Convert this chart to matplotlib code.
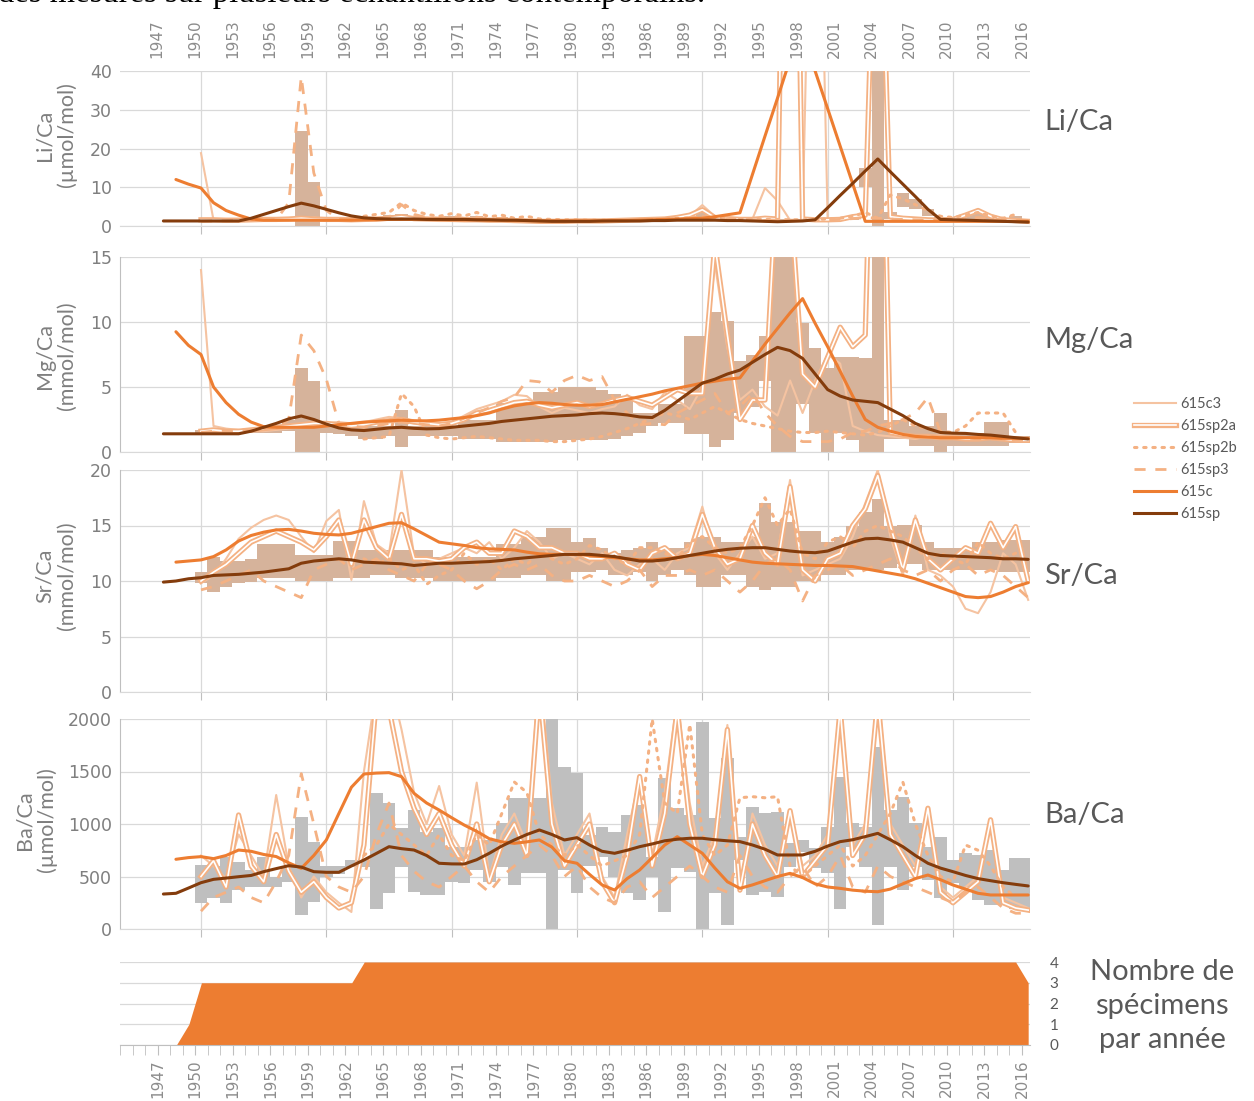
import numpy as np
import matplotlib
matplotlib.use("Agg")
import matplotlib.pyplot as plt
import matplotlib.patheffects as pe
from matplotlib.lines import Line2D

W, H = 1254, 1101

# year axes of the different series
years = np.arange(1950, 2017)        # 615c3, 615sp2a, 615sp3, boxes
years_2b = np.arange(1963, 2016)     # 615sp2b
years_c = np.arange(1948, 2017)      # 615c
years_sp = np.arange(1947, 2017)     # 615sp
label_years = np.arange(1947, 2017, 3)

# ---------------- Li/Ca (µmol/mol)
li_c3 = [18.8, 1.5, 1.4, 1.4, 1.5, 1.5, 1.6, 1.6, 1.8, 2.2,
         1.9, 1.8, 1.7, 1.6, 1.7, 1.9, 2.1, 1.8, 1.7, 1.6,
         1.6, 1.5, 1.6, 1.4, 1.4, 1.3, 1.2, 1.1, 1.1, 1.1,
         1.2, 1.2, 1.3, 1.3, 1.4, 1.5, 1.6, 1.7, 2.0, 2.6,
         5.4, 2.5, 2.0, 1.8, 1.8, 9.8, 6.5, 1.5, 1.4, 150,
         1.5, 1.6, 2.2, 3.0, 130, 2.0, 1.8, 1.6, 1.5, 1.4,
         1.6, 2.4, 3.6, 2.2, 1.4, 1.2, 1.0]
li_sp2a = [1.6, 1.6, 1.5, 1.5, 1.6, 1.7, 1.7, 1.8, 2.0, 1.8,
           1.7, 1.7, 1.6, 1.7, 1.8, 2.0, 2.4, 1.9, 1.8, 1.7,
           1.7, 1.6, 1.6, 1.5, 1.5, 1.4, 1.3, 1.2, 1.2, 1.2,
           1.3, 1.3, 1.3, 1.4, 1.5, 1.6, 1.7, 1.8, 2.2, 2.8,
           4.2, 2.2, 1.9, 1.7, 1.7, 2.0, 1.8, 200, 1.8, 1.6,
           1.6, 1.7, 2.4, 2.8, 110, 2.4, 2.0, 1.8, 1.6, 1.5,
           1.7, 2.8, 4.0, 2.5, 1.6, 1.4, 1.2]
li_sp3 = [1.2, 1.3, 1.3, 1.4, 1.5, 1.5, 1.6, 6.0, 38.5, 13.7,
          4.0, 1.8, 1.7, 1.7, 1.8, 2.2, 5.5, 3.0, 2.2, 2.0,
          2.5, 2.0, 2.3, 1.8, 2.0, 1.6, 1.5, 1.3, 1.3, 1.3,
          1.4, 1.4, 1.4, 1.5, 1.5, 1.6, 1.7, 1.8, 1.9, 2.0,
          2.2, 2.0, 1.8, 1.7, 1.6, 1.6, 1.5, 1.5, 1.5, 1.5,
          1.6, 1.7, 1.9, 2.2, 2.0, 1.8, 1.7, 1.6, 1.5, 1.4,
          1.5, 1.8, 2.2, 1.9, 1.6, 1.4, 1.3]
li_sp2b = [2.5, 3.0, 3.5, 6.0, 4.0, 3.0, 2.5,
           3.2, 2.6, 3.5, 2.4, 2.8, 2.0, 2.5, 1.8, 1.7, 1.6,
           1.6, 1.5, 1.5, 1.6, 1.6, 1.7, 1.8, 1.9, 2.0, 2.1,
           2.4, 2.2, 2.0, 1.9, 1.8, 1.7, 1.7, 1.6, 1.6, 1.7,
           1.8, 2.0, 2.5, 3.5, 2.0, 8.0, 7.0, 5.5, 4.0, 2.5,
           2.2, 2.8, 3.5, 2.6, 2.0, 3.0]
li_c = [12.0, 10.8,
        9.8, 6.0, 4.0, 2.8, 1.8, 1.5, 1.5, 1.5, 1.5, 1.5,
        1.5, 1.5, 1.5, 1.6, 1.6, 1.7, 1.7, 1.7, 1.7, 1.7,
        1.6, 1.6, 1.6, 1.5, 1.5, 1.4, 1.4, 1.3, 1.3, 1.3,
        1.3, 1.3, 1.3, 1.4, 1.4, 1.5, 1.6, 1.7, 1.8, 1.9,
        2.0, 2.4, 2.9, 3.4, 13.3, 23.2, 33.0, 43.0, 51.0, 40.0,
        30.3, 20.6, 10.9, 1.2, 1.2, 1.2, 1.2, 1.2, 1.2, 1.2,
        1.2, 1.2, 1.2, 1.2, 1.2, 1.2, 1.2]
li_sp = [1.3, 1.3, 1.3,
         1.3, 1.3, 1.3, 1.3, 2.0, 3.0, 4.0, 5.0, 5.9, 5.2,
         4.3, 3.4, 2.6, 2.1, 1.9, 1.8, 1.8, 1.8, 1.7, 1.7,
         1.7, 1.7, 1.6, 1.6, 1.5, 1.5, 1.4, 1.3, 1.2, 1.2,
         1.2, 1.2, 1.3, 1.3, 1.3, 1.3, 1.4, 1.4, 1.5, 1.5,
         1.5, 1.5, 1.4, 1.4, 1.3, 1.2, 1.1, 1.2, 1.3, 1.6,
         4.7, 7.9, 11.0, 14.2, 17.3, 14.0, 10.8, 7.6, 4.3, 1.7,
         1.6, 1.5, 1.4, 1.3, 1.2, 1.1, 1.0]
li_lo = [1.2, 1.2, 1.2, 1.2, 1.2, 1.2, 1.2, 1.2, 0.0, 0.0,
         1.2, 1.3, 1.3, 1.2, 1.3, 1.4, 1.2, 1.4, 1.3, 1.3,
         1.3, 1.2, 1.2, 1.2, 1.1, 1.1, 1.0, 1.0, 1.0, 1.0,
         1.0, 1.0, 1.1, 1.1, 1.1, 1.2, 1.2, 1.3, 1.4, 1.5,
         1.6, 1.4, 1.3, 1.3, 1.3, 1.3, 1.2, 1.2, 1.2, 1.2,
         1.2, 1.3, 1.5, 10.0, 0.0, 1.8, 5.0, 4.5, 2.5, 1.2,
         1.2, 1.5, 1.8, 1.5, 1.2, 1.0, 1.0]
li_hi = [1.6, 1.6, 1.6, 1.6, 1.7, 1.7, 1.8, 1.8, 24.6, 11.3,
         2.0, 1.9, 1.8, 1.9, 2.2, 2.8, 3.2, 2.6, 2.2, 2.0,
         2.6, 2.2, 2.6, 2.0, 2.2, 1.8, 1.7, 1.5, 1.5, 1.5,
         1.5, 1.5, 1.5, 1.6, 1.6, 1.7, 1.8, 1.9, 2.1, 2.6,
         4.0, 2.3, 2.0, 1.9, 1.9, 2.0, 1.9, 1.9, 1.8, 1.8,
         1.8, 1.9, 2.4, 15.0, 60.0, 3.5, 8.5, 7.0, 4.5, 2.3,
         2.0, 2.8, 3.6, 2.6, 2.0, 2.5, 1.8]

# ---------------- Mg/Ca (mmol/mol)
mg_c3 = [14.0, 2.0, 1.8, 1.7, 1.6, 1.6, 1.7, 1.8, 1.9, 2.0,
         2.2, 2.3, 2.2, 2.3, 2.5, 2.7, 2.6, 2.4, 2.3, 2.2,
         2.3, 2.8, 3.3, 3.6, 3.9, 4.4, 4.3, 3.5, 3.0, 3.4,
         3.2, 3.0, 3.3, 3.5, 4.4, 3.6, 3.3, 4.6, 4.0, 3.3,
         5.0, 14.5, 8.0, 4.0, 4.8, 3.5, 2.8, 5.5, 3.0, 5.5,
         7.5, 6.8, 2.0, 1.6, 1.3, 1.2, 1.1, 1.0, 1.2, 1.3,
         1.1, 1.0, 1.2, 1.1, 1.0, 0.9, 0.9]
mg_sp2a = [1.6, 1.7, 1.6, 1.6, 1.7, 1.8, 1.9, 2.0, 2.1, 2.2,
           2.2, 2.1, 2.0, 2.1, 2.3, 2.4, 2.5, 2.3, 2.2, 2.1,
           2.2, 2.5, 3.0, 3.2, 3.5, 3.8, 3.9, 3.6, 3.4, 3.6,
           3.8, 3.5, 3.7, 4.0, 4.2, 3.9, 3.6, 4.2, 4.8, 4.5,
           4.5, 16.0, 9.0, 2.5, 4.0, 4.0, 22.0, 20.0, 6.0, 5.0,
           7.3, 9.6, 8.1, 9.0, 45.0, 1.5, 1.3, 1.2, 1.2, 1.1,
           1.1, 1.0, 1.0, 1.1, 1.0, 0.9, 0.9]
mg_sp3 = [1.5, 1.6, 1.6, 1.7, 1.7, 1.8, 1.8, 2.5, 9.0, 7.8,
          5.6, 2.2, 2.0, 1.9, 2.0, 2.2, 2.3, 2.2, 2.1, 2.0,
          2.2, 2.6, 3.0, 3.4, 3.9, 4.2, 5.5, 5.4, 4.6, 5.5,
          5.9, 5.5, 5.8, 4.0, 3.0, 2.1, 2.2, 2.1, 3.0, 3.5,
          4.0, 4.5, 3.0, 3.5, 4.5, 3.0, 2.0, 1.2, 0.8, 0.8,
          0.8, 1.0, 1.5, 1.6, 2.0, 2.2, 2.5, 3.0, 4.2, 1.5,
          1.2, 1.1, 1.0, 1.0, 1.0, 0.9, 0.9]
mg_sp2b = [1.0, 1.1, 1.2, 4.5, 3.5, 1.3, 1.1,
           1.0, 1.1, 1.2, 1.1, 1.0, 0.9, 0.9, 0.9, 0.8, 0.8,
           0.9, 1.0, 1.2, 1.5, 1.8, 2.2, 2.6, 3.0, 2.8, 2.5,
           3.0, 3.5, 3.0, 2.5, 2.2, 2.0, 1.8, 1.6, 1.5, 1.5,
           1.6, 1.5, 1.4, 1.3, 1.5, 2.0, 2.5, 2.0, 1.8, 1.6,
           1.5, 2.0, 3.0, 3.0, 3.0, 1.5]
mg_c = [9.25, 8.2,
        7.5, 5.0, 3.8, 2.9, 2.3, 1.95, 1.9, 1.9, 1.9, 1.9,
        2.0, 2.1, 2.2, 2.3, 2.35, 2.4, 2.45, 2.4, 2.4, 2.45,
        2.55, 2.65, 2.8, 3.0, 3.3, 3.55, 3.7, 3.8, 3.75, 3.65,
        3.6, 3.6, 3.65, 3.85, 4.05, 4.25, 4.45, 4.7, 4.9, 5.1,
        5.3, 5.45, 5.6, 5.7, 7.0, 8.3, 9.5, 10.7, 11.8, 9.9,
        8.1, 6.2, 4.3, 2.5, 1.9, 1.6, 1.35, 1.2, 1.15, 1.1,
        1.1, 1.1, 1.1, 1.1, 1.05, 1.05, 1.05]
mg_sp = [1.4, 1.4, 1.4,
         1.4, 1.4, 1.4, 1.4, 1.6, 1.9, 2.2, 2.55, 2.77, 2.5,
         2.15, 1.85, 1.7, 1.65, 1.75, 1.85, 1.9, 1.82, 1.78, 1.8,
         1.9, 2.0, 2.1, 2.2, 2.35, 2.45, 2.55, 2.65, 2.75, 2.8,
         2.85, 2.95, 3.0, 2.95, 2.85, 2.7, 2.65, 3.2, 3.9, 4.6,
         5.3, 5.6, 6.0, 6.3, 6.9, 7.5, 8.05, 7.8, 7.2, 6.0,
         4.8, 4.3, 4.0, 3.9, 3.8, 3.3, 2.8, 2.2, 1.8, 1.5,
         1.45, 1.43, 1.35, 1.3, 1.2, 1.1, 1.0]
mg_lo = [1.4, 1.4, 1.4, 1.4, 1.5, 1.5, 1.5, 1.6, 0.0, 0.0,
         1.5, 1.4, 1.2, 1.0, 1.0, 1.2, 0.4, 1.2, 1.2, 1.2,
         1.2, 1.0, 1.0, 1.0, 0.8, 0.8, 0.8, 0.8, 0.8, 0.9,
         0.9, 0.9, 0.9, 1.0, 1.2, 1.5, 2.0, 2.2, 2.2, 1.4,
         1.4, 0.4, 0.9, 3.0, 3.5, 5.5, 0.0, 0.0, 3.7, 1.5,
         0.0, 1.5, 0.9, 0.0, 0.0, 1.0, 1.0, 0.5, 0.5, 0.0,
         0.5, 0.5, 0.5, 0.5, 0.5, 0.7, 0.7]
mg_hi = [1.7, 1.7, 1.7, 1.8, 1.8, 1.9, 2.0, 2.5, 6.5, 5.5,
         2.3, 2.0, 2.0, 2.0, 2.0, 2.0, 3.2, 2.0, 2.0, 2.0,
         2.0, 2.5, 2.5, 2.5, 3.8, 3.8, 3.8, 4.6, 4.6, 5.0,
         5.0, 5.0, 4.8, 4.5, 4.0, 3.0, 3.0, 3.7, 3.7, 8.9,
         8.9, 10.8, 10.1, 7.0, 7.5, 8.9, 15.0, 15.0, 9.9, 8.0,
         6.5, 7.3, 7.3, 7.2, 15.0, 2.5, 2.5, 2.0, 2.0, 3.0,
         1.5, 1.5, 1.5, 2.3, 2.3, 1.2, 1.2]

# ---------------- Sr/Ca (mmol/mol)
sr_c3 = [9.8, 10.5, 12.0, 13.8, 14.8, 15.5, 15.9, 15.5, 14.0, 12.6,
         15.4, 16.4, 10.1, 17.2, 13.3, 12.5, 20.0, 12.3, 11.5, 12.0,
         12.5, 13.0, 12.5, 13.5, 12.0, 13.0, 14.5, 13.5, 12.0, 12.5,
         12.0, 11.5, 12.5, 11.0, 10.5, 11.5, 12.0, 11.0, 12.5, 13.0,
         16.7, 12.5, 11.0, 12.5, 14.0, 12.0, 12.5, 19.1, 10.5, 11.0,
         11.5, 12.0, 14.0, 17.0, 20.0, 14.0, 10.5, 15.9, 11.0, 10.5,
         9.5, 7.5, 7.1, 9.0, 12.5, 11.5, 8.3]
sr_sp2a = [10.0, 10.8, 11.5, 12.5, 13.5, 14.0, 14.5, 14.0, 13.5, 12.8,
           14.0, 15.5, 11.5, 15.5, 13.0, 12.0, 16.0, 12.0, 12.0, 11.8,
           12.0, 13.0, 13.5, 12.5, 12.5, 14.5, 14.0, 13.0, 13.0, 12.5,
           12.5, 12.0, 12.0, 12.5, 11.5, 11.0, 12.5, 13.0, 12.0, 12.5,
           16.0, 13.0, 11.5, 12.0, 15.0, 12.5, 11.5, 18.5, 11.0, 10.0,
           12.0, 12.5, 15.0, 16.5, 19.5, 15.0, 11.0, 15.5, 12.0, 11.0,
           12.0, 13.0, 12.5, 15.2, 13.0, 14.9, 10.0]
sr_sp3 = [9.2, 9.5, 10.0, 10.5, 11.0, 10.0, 9.5, 9.0, 8.5, 11.0,
          11.5, 12.0, 11.0, 11.5, 12.0, 11.0, 10.5, 10.0, 11.5, 11.5,
          11.0, 10.0, 9.3, 10.0, 11.0, 11.5, 11.0, 11.5, 10.5, 10.0,
          10.0, 10.5, 10.0, 9.5, 10.0, 11.0, 9.5, 10.5, 10.5, 11.0,
          10.5, 11.0, 10.0, 9.0, 10.0, 11.5, 12.0, 11.0, 8.2, 10.5,
          11.0, 11.5, 10.5, 11.0, 11.5, 12.0, 11.0, 10.5, 11.0, 10.0,
          11.0, 11.5, 10.5, 11.0, 10.5, 9.5, 8.5]
sr_sp2b = [12.0, 11.5, 12.0, 11.0, 11.5, 9.7, 10.5,
           11.0, 12.5, 11.5, 12.0, 11.0, 12.0, 11.5, 12.5, 12.0, 11.5,
           12.0, 13.2, 12.8, 12.0, 11.5, 13.0, 13.0, 12.5, 12.0, 13.5,
           14.0, 13.0, 12.5, 13.0, 15.0, 17.5, 15.0, 16.5, 12.5, 12.0,
           13.5, 14.0, 13.0, 14.5, 15.0, 14.5, 14.0, 13.0, 12.0, 12.5,
           12.0, 11.5, 13.5, 12.5, 12.0, 12.5]
sr_c = [11.7, 11.8,
        11.9, 12.2, 12.8, 13.6, 14.1, 14.4, 14.6, 14.65, 14.5, 14.3,
        14.2, 14.15, 14.3, 14.6, 14.9, 15.2, 15.25, 14.7, 14.1, 13.5,
        13.35, 13.2, 13.0, 12.9, 12.85, 12.8, 12.6, 12.45, 12.4, 12.4,
        12.4, 12.3, 12.2, 12.1, 12.0, 11.9, 11.9, 12.0, 12.1, 12.3,
        12.4, 12.3, 12.1, 11.9, 11.7, 11.6, 11.55, 11.5, 11.45, 11.4,
        11.4, 11.35, 11.3, 11.1, 10.9, 10.7, 10.5, 10.2, 9.8, 9.4,
        9.0, 8.6, 8.5, 8.6, 9.0, 9.5, 9.85]
sr_sp = [9.9, 10.0, 10.2,
         10.3, 10.5, 10.55, 10.6, 10.7, 10.8, 10.95, 11.1, 11.6, 11.8,
         11.9, 12.0, 11.9, 11.7, 11.65, 11.6, 11.55, 11.4, 11.5, 11.6,
         11.6, 11.65, 11.7, 11.75, 11.85, 12.0, 12.1, 12.2, 12.3, 12.4,
         12.4, 12.4, 12.3, 12.2, 12.0, 11.8, 11.8, 11.9, 12.1, 12.3,
         12.5, 12.7, 12.85, 12.95, 13.0, 13.0, 12.85, 12.7, 12.6, 12.55,
         12.7, 13.1, 13.5, 13.8, 13.85, 13.7, 13.5, 13.0, 12.5, 12.3,
         12.25, 12.2, 12.15, 12.1, 12.0, 12.0, 11.95]
sr_lo = [9.8, 9.0, 9.5, 9.8, 9.9, 10.3, 10.3, 10.3, 10.0, 10.0,
         10.0, 10.3, 10.3, 10.3, 10.5, 10.5, 10.3, 10.3, 10.3, 10.0,
         10.0, 10.0, 10.0, 10.0, 10.3, 10.3, 10.5, 10.5, 10.0, 10.0,
         10.8, 10.8, 11.0, 10.5, 10.5, 10.8, 10.0, 10.5, 11.0, 10.5,
         9.5, 9.5, 10.5, 10.5, 9.5, 9.2, 9.5, 9.5, 10.0, 10.0,
         10.5, 10.5, 11.0, 11.0, 11.0, 11.2, 11.5, 11.5, 11.0, 11.0,
         11.0, 11.0, 11.0, 11.0, 10.8, 10.8, 10.8]
sr_hi = [10.8, 12.2, 11.8, 11.8, 12.0, 13.3, 13.3, 13.3, 12.3, 12.3,
         12.3, 13.6, 13.6, 12.8, 12.8, 12.8, 12.8, 12.8, 12.8, 12.2,
         12.2, 12.2, 12.2, 12.2, 13.3, 13.3, 14.0, 14.0, 14.8, 14.8,
         13.5, 13.9, 13.0, 12.5, 12.8, 13.0, 13.5, 13.0, 13.0, 13.5,
         14.0, 14.0, 13.5, 13.5, 14.0, 17.0, 15.3, 15.3, 14.5, 14.5,
         13.5, 14.0, 15.0, 16.2, 17.4, 15.0, 15.0, 15.0, 13.5, 13.0,
         13.0, 13.0, 13.5, 13.5, 13.7, 13.7, 13.7]

# ---------------- Ba/Ca (µmol/mol)
ba_c3 = [700, 600, 480, 900, 700, 500, 1276, 600, 300, 500,
         350, 250, 162, 1500, 2300, 2400, 1900, 1300, 1000, 1362,
         900, 700, 1394, 500, 900, 1100, 800, 2500, 1200, 700,
         900, 1100, 500, 300, 900, 1452, 700, 1300, 2200, 1200,
         600, 900, 1943, 400, 1100, 800, 600, 1127, 600, 700,
         900, 2200, 800, 1000, 2300, 1000, 800, 600, 1150, 400,
         300, 400, 500, 1040, 300, 250, 200]
ba_sp2a = [500, 650, 400, 1086, 600, 450, 900, 550, 350, 450,
           300, 200, 250, 800, 2200, 2100, 1500, 1150, 900, 1100,
           800, 600, 1000, 450, 800, 1000, 700, 2300, 1000, 600,
           800, 1000, 450, 250, 700, 1452, 600, 1100, 2100, 1000,
           500, 800, 1900, 370, 1000, 700, 500, 1127, 500, 650,
           800, 2100, 700, 900, 2200, 900, 700, 500, 1150, 350,
           250, 350, 450, 1040, 250, 200, 180]
ba_sp3 = [170, 300, 350, 400, 300, 250, 450, 700, 1480, 1000,
          500, 400, 350, 500, 900, 1200, 700, 550, 450, 400,
          500, 600, 450, 350, 500, 600, 700, 800, 700, 500,
          600, 400, 300, 250, 400, 450, 300, 400, 500, 600,
          500, 400, 350, 700, 500, 400, 350, 500, 600, 400,
          500, 700, 400, 350, 600, 500, 450, 400, 350, 300,
          250, 350, 400, 300, 200, 150, 150]
ba_sp2b = [700, 800, 1000, 900, 800, 700, 900,
           700, 650, 900, 800, 1100, 1400, 1300, 900, 800, 700,
           800, 700, 600, 650, 700, 900, 2000, 1200, 1100, 1950,
           900, 700, 800, 1250, 1260, 1250, 1260, 600, 500, 600,
           700, 800, 600, 700, 900, 1100, 1400, 1000, 700, 500,
           450, 800, 750, 600, 400, 300]
ba_c = [664, 680,
        689, 670, 700, 752, 740, 710, 690, 630, 578, 700,
        848, 1100, 1350, 1476, 1485, 1489, 1451, 1292, 1200, 1133,
        1060, 990, 930, 860, 830, 816, 830, 848, 780, 650,
        626, 520, 420, 371, 480, 562, 680, 800, 879, 800,
        721, 580, 450, 387, 420, 460, 500, 530, 490, 430,
        400, 387, 370, 360, 355, 380, 430, 480, 514, 470,
        419, 380, 340, 324, 324, 324, 324]
ba_sp = [333, 340, 390,
         441, 473, 485, 498, 510, 546, 575, 603, 590, 546,
         540, 540, 600, 657, 720, 784, 765, 752, 700, 626,
         620, 619, 660, 721, 790, 848, 900, 943, 900, 848,
         870, 800, 740, 721, 750, 784, 810, 840, 855, 864,
         864, 850, 840, 832, 800, 760, 705, 705, 705, 740,
         790, 832, 850, 880, 911, 850, 784, 700, 626, 580,
         546, 510, 480, 460, 441, 425, 410]
ba_lo = [245, 300, 245, 371, 403, 403, 403, 450, 130, 260,
         500, 520, 590, 590, 195, 340, 594, 356, 324, 324,
         451, 435, 562, 451, 594, 420, 530, 530, 0, 562,
         340, 600, 690, 500, 340, 276, 500, 162, 578, 546,
         0, 340, 35, 657, 324, 356, 308, 594, 737, 578,
         530, 195, 784, 594, 35, 594, 372, 594, 467, 292,
         435, 403, 276, 228, 228, 195, 195]
ba_hi = [610, 600, 690, 638, 562, 690, 500, 600, 1070, 832,
         600, 600, 654, 654, 1292, 1197, 959, 1133, 927, 959,
         784, 784, 848, 848, 1006, 1245, 1245, 1245, 2000, 1546,
         1483, 900, 975, 927, 1086, 1181, 690, 1436, 1149, 1086,
         1975, 1054, 1625, 880, 1165, 1102, 1117, 816, 848, 768,
         975, 1452, 1006, 975, 1736, 1133, 1260, 1006, 784, 880,
         657, 721, 705, 753, 562, 673, 673]

# number of specimens per year (break points of the step profile)
count_years = [1948, 1949, 1950, 1962, 1963, 2015, 2016]
count = [0, 1, 3, 3, 4, 4, 3]

C_LIGHT = "#F5C3A1"
C_MID = "#F4B183"
C_C = "#ED7D31"
C_SP = "#843C0C"
GRID = "#D9D9D9"
TXT = "#595959"
TICK = "#7F7F7F"


def px(l, t, r, b):
    return [l / W, 1 - b / H, (r - l) / W, (b - t) / H]


fig = plt.figure(figsize=(W / 100, H / 100), dpi=100)

x0 = 1950 + (120 - 201) / 12.533
x1 = 1950 + (1030 - 201) / 12.533

ax_li = fig.add_axes(px(120, 71, 1030, 226))
ax_mg = fig.add_axes(px(120, 257, 1030, 452))
ax_sr = fig.add_axes(px(120, 470, 1030, 692))
ax_ba = fig.add_axes(px(120, 719, 1030, 929))
ax_n = fig.add_axes(px(120, 962, 1030, 1045))

panels = [
    (ax_li, (0, 40), [0, 10, 20, 30, 40], li_c3, li_sp2a, li_sp2b, li_sp3, li_c, li_sp, li_lo, li_hi, "#D6B39B"),
    (ax_mg, (0, 15), [0, 5, 10, 15], mg_c3, mg_sp2a, mg_sp2b, mg_sp3, mg_c, mg_sp, mg_lo, mg_hi, "#D6B39B"),
    (ax_sr, (0, 20), [0, 5, 10, 15, 20], sr_c3, sr_sp2a, sr_sp2b, sr_sp3, sr_c, sr_sp, sr_lo, sr_hi, "#D6B39B"),
    (ax_ba, (0, 2000), [0, 500, 1000, 1500, 2000], ba_c3, ba_sp2a, ba_sp2b, ba_sp3, ba_c, ba_sp, ba_lo, ba_hi, "#BFBFBF"),
]

double = [pe.Stroke(linewidth=3.8, foreground=C_MID), pe.Normal()]

for ax, ylim, yt, c3, sp2a, sp2b, sp3, cc, sp, lo, hi, boxc in panels:
    lo = np.array(lo, float)
    hi = np.array(hi, float)
    ax.bar(years, hi - lo, bottom=lo, width=1.0, color=boxc, linewidth=0, zorder=1)
    ax.plot(years, c3, color=C_LIGHT, lw=1.5, zorder=2)
    ax.plot(years, sp2a, color="white", lw=1.2, path_effects=double, zorder=2.2)
    ax.plot(years_2b, sp2b, color=C_MID, lw=2.2, linestyle=(0, (0.8, 2.2)),
            dash_capstyle="round", zorder=2.3)
    ax.plot(years, sp3, color=C_MID, lw=2.0, linestyle=(0, (4, 3.5)), zorder=2.4)
    ax.plot(years_c, cc, color=C_C, lw=2.2, zorder=3, solid_capstyle="round")
    ax.plot(years_sp, sp, color=C_SP, lw=2.2, zorder=3.5, solid_capstyle="round")

    ax.set_xlim(x0, x1)
    ax.set_ylim(*ylim)
    ax.set_yticks(yt)
    ax.set_xticks(np.arange(1950, 2011, 10))
    ax.tick_params(axis="x", labelbottom=False, length=6, color="#BFBFBF", direction="out")
    ax.tick_params(axis="y", length=0, pad=6, labelsize=12.5, labelcolor=TICK)
    ax.grid(True, color=GRID, lw=0.9, zorder=0)
    ax.set_axisbelow(True)
    for s in ("top", "right"):
        ax.spines[s].set_visible(False)
    ax.spines["bottom"].set_color(GRID)
    ax.spines["left"].set_color("#BFBFBF")

ax_li.spines["left"].set_visible(False)

# year labels above the first panel
top = ax_li.secondary_xaxis("top")
top.set_xticks(label_years - 0.5, labels=[str(y) for y in label_years])
top.tick_params(length=0, pad=9, labelrotation=90, labelsize=11, labelcolor="#8C8C8C")
top.spines["top"].set_visible(False)

# specimen count
ax_n.fill_between(count_years, count, 0, color=C_C, linewidth=0, zorder=2)
ax_n.set_xlim(x0, x1)
ax_n.set_ylim(0, 4)
ax_n.set_yticks([0, 1, 2, 3, 4])
ax_n.yaxis.tick_right()
ax_n.tick_params(axis="y", length=0, pad=14, labelsize=11, labelcolor=TXT)
for lab in ax_n.get_yticklabels():
    lab.set_fontfamily("Lato")
ax_n.set_xticks(label_years - 0.5, labels=[str(y) for y in label_years])
ax_n.set_xticks(np.arange(1944, 2017) - 0.5, minor=True)
ax_n.tick_params(axis="x", which="both", length=7, color="#BFBFBF", direction="out")
ax_n.tick_params(axis="x", which="major", pad=3, labelrotation=90, labelsize=11, labelcolor="#8C8C8C")
ax_n.grid(True, axis="y", color=GRID, lw=0.9, zorder=0)
for s in ("top", "right", "left"):
    ax_n.spines[s].set_visible(False)
ax_n.spines["bottom"].set_color("#BFBFBF")

# titles on the right
for name, yc in (("Li/Ca", 122), ("Mg/Ca", 340), ("Sr/Ca", 576), ("Ba/Ca", 815)):
    fig.text(1044 / W, 1 - yc / H, name, family="Lato", fontsize=21, color=TXT,
             ha="left", va="center")
fig.text(1162 / W, 1 - 1006 / H, "Nombre de\nspécimens\npar année", family="Lato",
         fontsize=21, color=TXT, ha="center", va="center", linespacing=1.4)

# y labels
for lab, xc, yc in (("Li/Ca\n(µmol/mol)", 56, 135), ("Mg/Ca\n(mmol/mol)", 56, 356),
                    ("Sr/Ca\n(mmol/mol)", 56, 576), ("Ba/Ca\n(µmol/mol)", 36, 820)):
    fig.text(xc / W, 1 - yc / H, lab, family="Lato", fontsize=15.5, color=TICK,
             rotation=90, ha="center", va="center", linespacing=1.1)

# legend
handles = [
    Line2D([], [], color=C_LIGHT, lw=1.5),
    Line2D([], [], color="white", lw=1.2, path_effects=double),
    Line2D([], [], color=C_MID, lw=2.2, linestyle=(0, (0.8, 2.2)), dash_capstyle="round"),
    Line2D([], [], color=C_MID, lw=2.0, linestyle=(0, (4, 3.5))),
    Line2D([], [], color=C_C, lw=2.2),
    Line2D([], [], color=C_SP, lw=2.2),
]
labels = ["615c3", "615sp2a", "615sp2b", "615sp3", "615c", "615sp"]
fig.legend(handles, labels, loc="upper left", bbox_to_anchor=(1134 / W, 1 - 397 / H),
           frameon=False, prop=dict(family="Lato", size=10.5), labelcolor=TXT,
           handlelength=2.9, handletextpad=0.3, labelspacing=0.55,
           borderaxespad=0, borderpad=0)

# tail of the paragraph above the figure
fig.text(-2 / W, 1 - 2 / H, "des mesures sur plusieurs échantillons contemporains.",
         family="Liberation Serif", fontsize=23.5, color="black", va="baseline")

fig.savefig("out.png", dpi=100)
